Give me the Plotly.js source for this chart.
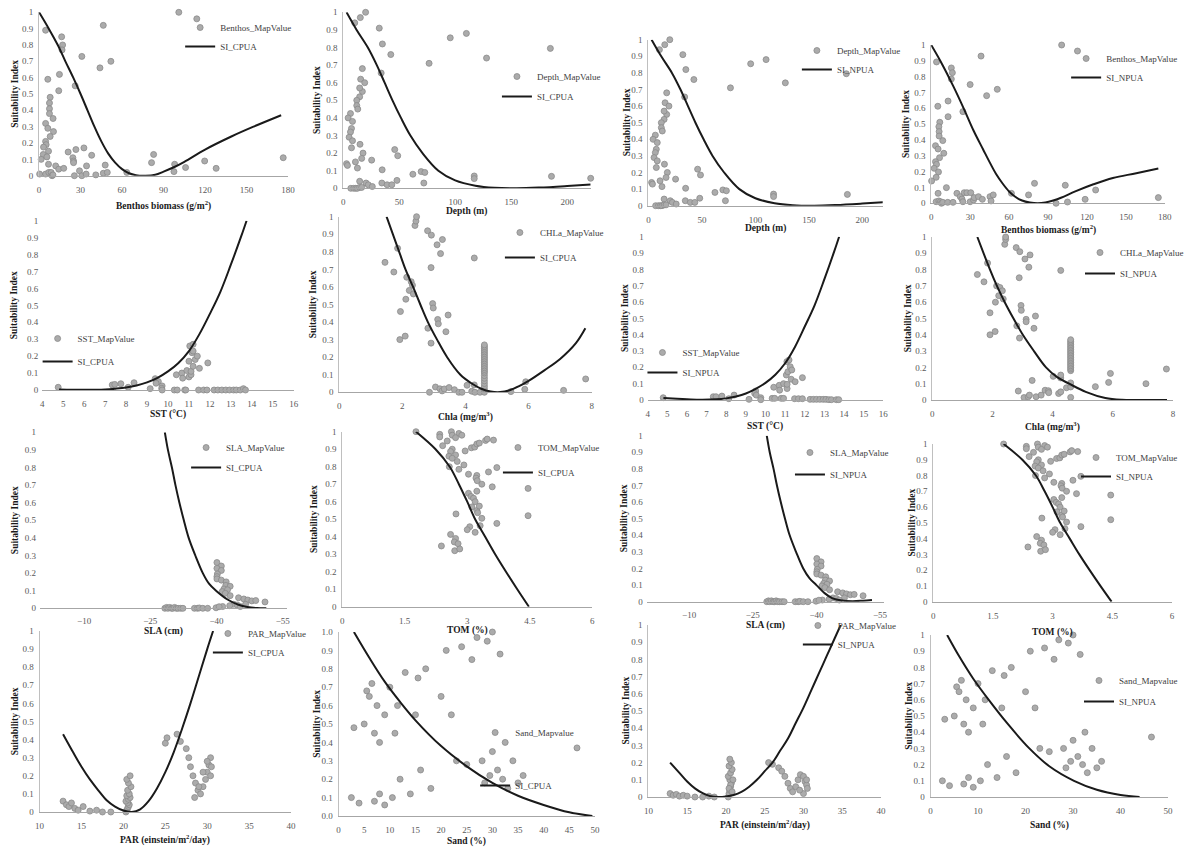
<!DOCTYPE html>
<html><head><meta charset="utf-8">
<script src="https://cdn.plot.ly/plotly-3.0.1.min.js"></script>
<style>html,body{margin:0;padding:0;background:#fff}#chart{width:1189px;height:850px}</style>
</head><body><div id="chart"></div>
<script>
// ---------------- DATA ----------------
const benthosCpuaX = [4.7,16.3,17,16.6,30.9,46.4,101,114,51.9,44,14.7,6.3,26.1,14.2,8,7.5,7.5,7.5,10.1,4.7,6.3,10.4,8,4.7,5.1,3.2,6.8,3,5.6,1.5,6.8,12,14.2,17.8,21,24.4,24.9,24.9,26.6,32.4,34.3,38,29.2,30.9,25.5,34,41,46.4,49.3,47.8,4.7,7,8.7,9.4,10,63.4,82.8,81.3,97.5,98,105.9,119.7,128,176.5,0.4];
const benthosCpuaY = [0.89,0.85,0.80,0.77,0.73,0.92,1.0,0.96,0.70,0.66,0.62,0.59,0.55,0.52,0.48,0.445,0.41,0.38,0.35,0.32,0.29,0.27,0.24,0.21,0.19,0.175,0.15,0.13,0.115,0.10,0.07,0.06,0.04,0.045,0.145,0.11,0.09,0.08,0.16,0.17,0.06,0.125,0.03,0.0,0.0,0.01,0.005,0.015,0.02,0.065,0.01,0.02,0.02,0.0,0.005,0.02,0.13,0.08,0.025,0.07,0.05,0.09,0.045,0.11,0.01];
const benthosNpuaX = [100.5,112.7,38.4,4.1,15.5,16.3,15.5,30,50.9,42.7,13,5.1,24.4,13,6.6,5.9,6.1,6.1,8.9,3.3,5.3,9.7,6.4,3.3,4.1,2.3,5.6,3.8,0.3,5.3,11.7,3.8,5.9,7.1,7.9,8.9,12.7,16.8,19.8,22.4,23.7,24.4,25.4,27.5,30.5,30,32.6,33.1,36.4,39.4,45.3,46.1,47.8,61.8,75,79.6,96.2,103.3,105,118.6,126.7,175];
const benthosNpuaY = [1.0,0.962,0.93,0.893,0.855,0.825,0.785,0.75,0.72,0.68,0.646,0.613,0.579,0.547,0.512,0.484,0.453,0.425,0.396,0.364,0.343,0.316,0.288,0.263,0.246,0.221,0.198,0.164,0.141,0.063,0.099,0.01,0.015,0.01,0,0.006,0.006,0.006,0.063,0.042,0.027,0.01,0.067,0.067,0.067,0.01,0.021,0.036,0.042,0.025,0.042,0.015,0.053,0.063,0.053,0.126,0,0.114,0.008,0.025,0.084,0.036];
const depthX = [20,15.3,10.3,32.2,35,42.5,95.6,110,76.7,128,185,33.9,17.1,15.6,19.2,17.1,14.7,14.7,12.1,12.1,13,6.5,4.4,8.3,7.4,6.5,5.3,8.3,7.4,15,17.7,16.5,10.9,12.7,3,3.8,25.4,46,48.7,34.8,62.2,69.6,72.9,72,48,34.5,39.2,43.4,14.7,20.4,22.4,26,6.8,9.4,11.2,12.7,14.7,16.5,117,117,186,221];
const depthY = [1.0,0.97,0.94,0.91,0.82,0.76,0.855,0.88,0.71,0.74,0.795,0.655,0.68,0.62,0.60,0.55,0.57,0.52,0.50,0.47,0.45,0.425,0.40,0.38,0.34,0.32,0.29,0.27,0.23,0.25,0.20,0.17,0.15,0.115,0.14,0.13,0.16,0.22,0.185,0.105,0.08,0.095,0.09,0.03,0.045,0.03,0.02,0.02,0.04,0.03,0.02,0.01,0.0,0.0,0.0,0.0,0.005,0.005,0.07,0.055,0.068,0.057];
const sstCpuaX = [4.76,7.34,7.46,7.75,8.1,8.38,9.15,9.39,9.54,9.43,9.72,9.7,9.72,10.4,10.66,10.7,10.9,11.0,11.1,11.0,11.1,11.2,11.15,11.04,11.2,11.2,11.3,11.4,11.5,11.9,10.3,10.44,10.8,10.85,11.46,11.7,11.86,12.2,12.38,12.57,12.76,12.94,13.13,13.26,13.45,13.6,13.7];
const sstCpuaY = [0.016,0.03,0.033,0.037,0.016,0.043,0.008,0.067,0.05,0.04,0.024,0.01,0.0,0.09,0.10,0.07,0.115,0.077,0.09,0.17,0.11,0.14,0.22,0.26,0.27,0.23,0.18,0.20,0.128,0.16,0,0,0,0,0,0,0,0,0,0,0,0,0,0,0,0.008,0];
const sstNpuaX = [4.79,7.34,7.48,7.78,8.13,8.4,9.16,9.5,9.45,9.53,9.76,9.76,10.42,10.7,10.72,10.92,11.1,11.1,11.06,11.14,11.09,11.2,11.26,11.34,11.31,11.51,11.88,10.34,10.47,10.8,10.92,11.48,11.68,11.88,12.27,12.44,12.6,12.77,12.94,13.08,13.23,13.36,13.61,13.73];
const sstNpuaY = [0.014,0.02,0.02,0.024,0.008,0.03,0.004,0.055,0.04,0.03,0.014,0.002,0.078,0.09,0.06,0.1,0.07,0.096,0.153,0.173,0.235,0.245,0.204,0.184,0.127,0.112,0.137,0.01,0.01,0.01,0.01,0.008,0.008,0.008,0.004,0.004,0.004,0.004,0.004,0.004,0.002,0.002,0.002,0.002];
const chlaCpuaX = [1.45,1.73,1.85,1.94,1.92,2.09,2.11,2.14,2.22,2.28,2.32,2.35,2.4,2.43,2.45,2.8,2.92,3.1,3.27,3.21,2.91,2.96,2.98,3.12,3.14,3.45,3.38,2.81,2.91,4.28,3.05,2.86,3.19,3.26,3.33,3.48,3.65,3.79,3.89,4.05,4.2,4.3,4.28,4.46,
  4.6,4.6,4.6,4.6,4.6,4.6,4.6,4.6,4.6,4.6,4.6,4.6,4.6,4.6,4.6,4.6,4.6,4.6,4.6,4.6,4.6,4.6,4.6,4.6,
  5.44,5.91,5.88,7.11,7.81];
const chlaCpuaY = [0.74,0.685,0.82,0.46,0.30,0.32,0.53,0.655,0.58,0.63,0.61,0.56,0.95,0.975,1.0,0.92,0.895,0.84,0.87,0.79,0.71,0.505,0.48,0.415,0.39,0.44,0.345,0.365,0.28,0.765,0.03,0.0,0.02,0.008,0.019,0.027,0.015,0.0,0.0,0.04,0.006,0.0,0.042,0.0,
  0,0.02,0.035,0.05,0.065,0.08,0.095,0.11,0.12,0.13,0.14,0.15,0.16,0.17,0.18,0.19,0.2,0.21,0.22,0.23,0.24,0.25,0.26,0.27,
  0.004,0.06,0.017,0.011,0.076];
const chlaNpuaX = [1.5,1.72,1.84,1.92,1.92,2.09,2.1,2.14,2.21,2.25,2.33,2.36,2.41,2.44,2.44,2.79,2.91,3.08,3.25,3.21,2.89,2.95,2.96,3.12,3.12,3.43,3.38,2.81,2.9,4.27,3.32,2.86,3.05,3.19,3.23,3.45,3.62,3.75,3.86,3.87,4.02,4.2,4.27,4.27,4.27,4.46,
  4.6,4.6,4.6,4.6,4.6,4.6,4.6,4.6,4.6,4.6,4.6,4.6,4.6,4.6,4.6,4.6,4.6,4.6,4.6,4.6,4.6,4.6,4.6,
  5.42,5.86,5.92,7.1,7.78];
const chlaNpuaY = [0.77,0.725,0.84,0.535,0.40,0.42,0.60,0.70,0.64,0.69,0.67,0.62,0.955,0.985,1.0,0.935,0.91,0.865,0.89,0.815,0.75,0.58,0.55,0.495,0.48,0.515,0.44,0.455,0.38,0.795,0.12,0.055,0.015,0.02,0.03,0.02,0.03,0.06,0.057,0.045,0.145,0.04,0.05,0.135,0.153,0.075,
  0.016,0.08,0.105,0.18,0.19,0.2,0.21,0.22,0.23,0.24,0.25,0.26,0.27,0.28,0.29,0.3,0.31,0.32,0.33,0.34,0.35,0.36,0.37,
  0.082,0.108,0.163,0.10,0.19];
const slaX = [-28.3,-28.7,-29,-29.4,-29.8,-30.1,-30.5,-30.9,-31.3,-31.9,-32.4,-35,-35.7,-36.1,-36.9,-38,-39.9,-40.1,-41.1,-40.1,-41.1,-40.2,-40.1,-40.1,-41.1,-42.2,-42.1,-43.1,-41.7,-42.5,-41.3,-42,-43.1,-45,-46.2,-47.1,-48,-48.9,-51,-43.9,-43,-41.4,-40.6,-44.7,-46.6,-45.4];
const slaY = [0,0.005,0,0.005,0,0,0.005,0,0,0,0,0,0,0.002,0,0,0.003,0.26,0.24,0.227,0.215,0.195,0.18,0.167,0.16,0.15,0.13,0.125,0.11,0.105,0.095,0.085,0.072,0.06,0.053,0.047,0.042,0.044,0.036,0.023,0.015,0.01,0.009,0.019,0.023,0.01];
const tomX = [1.77,2.34,2.34,2.62,2.8,2.87,2.64,2.72,2.52,2.41,2.64,2.6,2.72,2.56,2.64,2.76,2.57,2.8,2.92,2.95,3.1,3.18,3.23,3.29,3.44,3.48,3.63,3.51,3.71,3.03,3.23,3.21,3.24,3.35,3.23,3.6,4.46,3.03,3.09,3.15,3.19,3.11,3.23,3.29,3.25,2.73,4.46,3.35,3.31,3.71,3.06,3,3.19,2.6,2.72,2.69,2.78,2.38,2.7,2.82];
const tomY = [1.0,0.985,0.97,1.0,0.99,0.98,0.98,0.966,0.947,0.92,0.9,0.887,0.867,0.86,0.848,0.83,0.8,0.785,0.81,0.89,0.908,0.912,0.93,0.935,0.95,0.958,0.952,0.77,0.795,0.757,0.75,0.735,0.72,0.70,0.66,0.685,0.676,0.648,0.63,0.62,0.6,0.57,0.55,0.575,0.537,0.53,0.52,0.505,0.463,0.476,0.457,0.44,0.425,0.413,0.39,0.37,0.36,0.347,0.32,0.33];
const parCpuaX = [12.8,13.2,13.5,13.8,14.2,14.6,15.2,16.0,16.8,17.5,18.5,20.3,20.4,20.5,20.6,20.7,20.5,20.3,20.6,20.8,20.4,20.7,20.5,20.9,20.6,20.4,20.8,25.0,25.2,26.4,26.8,27.5,27.8,28.0,28.3,28.6,28.9,29.2,29.5,29.8,30.0,30.2,30.4,30.5,30.4,30.0,29.5,29.0,28.5];
const parCpuaY = [0.06,0.04,0.03,0.05,0.02,0.01,0.03,0.005,0.01,0.0,0.0,0.0,0.01,0.02,0.03,0.04,0.05,0.06,0.07,0.08,0.09,0.1,0.12,0.14,0.16,0.18,0.2,0.38,0.41,0.43,0.39,0.35,0.3,0.25,0.2,0.16,0.12,0.1,0.14,0.18,0.22,0.26,0.3,0.25,0.2,0.28,0.22,0.14,0.08];
const parNpuaX = [12.8,13.2,13.6,14.0,14.5,15.0,16.0,17.0,17.8,18.5,20.3,20.4,20.5,20.6,20.7,20.5,20.3,20.6,20.8,20.4,20.7,20.5,20.9,20.6,20.4,20.8,25.5,26.0,26.8,27.2,27.6,28.0,28.3,28.6,29.0,29.3,29.6,30.0,30.2,30.4,30.5,30.4,30.0,29.5];
const parNpuaY = [0.02,0.01,0.015,0.005,0.01,0.005,0.0,0.0,0.005,0.0,0.0,0.02,0.04,0.06,0.08,0.1,0.12,0.14,0.16,0.18,0.2,0.22,0.1,0.07,0.05,0.03,0.2,0.19,0.17,0.15,0.12,0.08,0.05,0.03,0.06,0.1,0.13,0.12,0.09,0.07,0.05,0.1,0.02,0.04];
const sandX = [2.5,3,4,5,5.5,6,6.5,7,7,7.5,8,8,9,9,10,10.5,11,11.5,12,13,14,15,15.5,16,17,18,20,21,22,23,24,25,26,27,28,28.5,29,29.5,30,30,31,31.5,32,32.5,33,34,35,36,46.5];
const sandY = [0.1,0.48,0.07,0.5,0.68,0.65,0.72,0.45,0.08,0.6,0.4,0.12,0.55,0.06,0.7,0.1,0.45,0.6,0.2,0.78,0.12,0.55,0.75,0.25,0.8,0.15,0.65,0.9,0.55,0.3,0.92,0.28,0.85,0.97,0.3,0.18,0.95,0.22,0.35,1.0,0.25,0.88,0.2,0.4,0.15,0.3,0.18,0.22,0.37];

// fitted suitability curves
const benthosCpuaCurveX = [0,7,13.5,19,24.7,30,35,40,45,50,55,60,65,70,77,84,90,97,105,120,139,155,175];
const benthosCpuaCurveY = [1,0.9,0.8,0.7,0.6,0.5,0.4,0.3,0.21,0.135,0.08,0.04,0.015,0.003,0,0.006,0.025,0.05,0.085,0.16,0.24,0.3,0.37];
const benthosNpuaCurveX = [0,8,17,25,32.6,40,45,50,55,60,65,70,76,82,88,94,100,111,125,140,158,175];
const benthosNpuaCurveY = [1,0.885,0.74,0.6,0.46,0.34,0.26,0.185,0.125,0.075,0.04,0.018,0.005,0,0.005,0.018,0.035,0.075,0.12,0.16,0.19,0.22];
const depthCurveX = [3,12,22,30,37,44,51.6,60,70.8,85,100,118,135,155,175,200,221];
const depthCurveY = [1,0.9,0.8,0.7,0.6,0.5,0.4,0.3,0.2,0.1,0.045,0.015,0.003,0,0.004,0.013,0.022];
const sstCpuaCurveX = [4.8,6,7,7.5,8,8.5,9,9.5,10,10.5,11,11.5,12,12.5,13,13.5,13.75];
const sstCpuaCurveY = [0.003,0.001,0.003,0.008,0.015,0.027,0.045,0.072,0.11,0.16,0.23,0.33,0.45,0.58,0.74,0.91,1.0];
const sstNpuaCurveX = [4.8,5.5,6.5,7.5,8,8.5,9,9.5,10,10.5,11,11.5,12,12.5,13,13.5,13.75];
const sstNpuaCurveY = [0.013,0.008,0.002,0.004,0.01,0.022,0.04,0.068,0.105,0.155,0.225,0.325,0.45,0.58,0.74,0.91,1.0];
const chlaCpuaCurveX = [1.5,1.9,2.1,2.34,2.57,2.81,3.1,3.42,3.84,4.2,4.5,4.8,5.1,5.4,5.7,6,6.5,7,7.5,7.8];
const chlaCpuaCurveY = [1,0.8,0.7,0.6,0.5,0.4,0.3,0.2,0.1,0.05,0.02,0.004,0.001,0.012,0.035,0.065,0.125,0.19,0.28,0.365];
const chlaNpuaCurveX = [1.5,1.92,2.15,2.41,2.7,3.01,3.38,3.78,4.15,4.55,5.1,5.75,6.3,7,7.8];
const chlaNpuaCurveY = [1,0.8,0.7,0.6,0.5,0.4,0.3,0.2,0.14,0.1,0.05,0.012,0.001,0,0];
const slaCpuaCurveX = [-28.3,-29,-29.9,-30.7,-31.6,-32.6,-33.7,-35.2,-36.9,-38.3,-39.9,-42.5,-45,-47,-49.2,-51.3];
const slaCpuaCurveY = [1,0.9,0.8,0.7,0.6,0.5,0.4,0.3,0.2,0.14,0.1,0.05,0.02,0.007,0.001,0];
const slaNpuaCurveX = [-28.3,-29,-29.9,-30.7,-31.6,-32.6,-33.7,-35.2,-36.9,-38.4,-40,-42,-43.8,-46,-48.5,-51,-53.1];
const slaNpuaCurveY = [1,0.9,0.8,0.7,0.6,0.5,0.4,0.3,0.2,0.14,0.1,0.05,0.02,0.007,0.003,0.006,0.01];
const tomCurveX = [1.77,2.24,2.58,2.8,3.0,3.19,3.43,3.67,3.93,4.2,4.48];
const tomCurveY = [1,0.9,0.8,0.7,0.6,0.5,0.4,0.3,0.2,0.1,0];
const parCpuaCurveX = [12.8,14,15,16,17,18,19,20,21,22,23,24,25,26,27,28,29,30,30.7];
const parCpuaCurveY = [0.43,0.33,0.25,0.18,0.12,0.065,0.03,0.008,0,0.015,0.06,0.13,0.22,0.33,0.46,0.6,0.75,0.9,1.0];
const parNpuaCurveX = [12.8,14,15,16,17,18,19,20,21,22,23,24,25,26,27,28,29,30,31,32,33,34,34.8];
const parNpuaCurveY = [0.2,0.14,0.09,0.05,0.022,0.005,0,0.003,0.012,0.03,0.06,0.1,0.15,0.2,0.27,0.34,0.43,0.52,0.62,0.72,0.82,0.92,1.0];
const sandCpuaCurveX = [3,6,9,12,15,20,25,30,35,40,45,49.5];
const sandCpuaCurveY = [1,0.86,0.73,0.62,0.52,0.38,0.27,0.18,0.11,0.06,0.02,0];
const sandNpuaCurveX = [3.5,6,9,12.5,16,20.8,25,30.2,35,40,44];
const sandNpuaCurveY = [1,0.87,0.73,0.59,0.46,0.3,0.19,0.1,0.045,0.013,0];

// ---------------- LAYOUT / DRAWING ----------------
const W = 1189, H = 850;
const SERIF = 'Liberation Serif, Times New Roman, serif';
const YT = 'Suitability Index';
// box: [left, right, top, bottom] in px; leg: [textX, firstItemCenterY, gap]
const panels = [
  {box:[39.5,291,12.3,175.7], xr:[0,180], dt:30, px:benthosCpuaX, py:benthosCpuaY, cx:benthosCpuaCurveX, cy:benthosCpuaCurveY, pn:'Benthos_MapValue', ln:'SI_CPUA', xt:'Benthos biomass (g/m<sup>2</sup>)', xtY:206, ytX:15, yl:true, leg:[222,27,20]},
  {box:[346.7,596.7,12.3,188.3], xr:[0,221], dt:50, px:depthX, py:depthY, cx:depthCurveX, cy:depthCurveY, pn:'Depth_MapValue', ln:'SI_CPUA', xt:'Depth (m)', xtY:212, ytX:321, yl:true, leg:[542,76,21]},
  {box:[655,891.7,39.7,205.7], xr:[0,219], dt:50, px:depthX, py:depthY, cx:depthCurveX, cy:depthCurveY, pn:'Depth_MapValue', ln:'SI_NPUA', xt:'Depth (m)', xtY:228, ytX:633, yl:true, leg:[845,50,13]},
  {box:[940.7,1176.7,45,203.3], xr:[0,180], dt:30, px:benthosNpuaX, py:benthosNpuaY, cx:benthosNpuaCurveX, cy:benthosNpuaCurveY, pn:'Benthos_MapValue', ln:'SI_NPUA', xt:'Benthos biomass (g/m<sup>2</sup>)', xtY:229, ytX:915, yl:true, leg:[1117,58,18]},
  {box:[42.7,296.7,220.7,390], xr:[4,16], dt:1, px:sstCpuaX, py:sstCpuaY, cx:sstCpuaCurveX, cy:sstCpuaCurveY, pn:'SST_MapValue', ln:'SI_CPUA', xt:'SST (°C)', xtY:414, ytX:15, yl:false, leg:[78,338,24]},
  {box:[342.7,597.7,216.7,392.3], xr:[0,8], dt:2, px:chlaCpuaX, py:chlaCpuaY, cx:chlaCpuaCurveX, cy:chlaCpuaCurveY, pn:'CHLa_MapValue', ln:'SI_CPUA', xt:'Chla (mg/m<sup>3</sup>)', xtY:416, ytX:317, yl:true, leg:[545,232,26]},
  {box:[654.3,892.3,236.7,400], xr:[4,16], dt:1, px:sstNpuaX, py:sstNpuaY, cx:sstNpuaCurveX, cy:sstNpuaCurveY, pn:'SST_MapValue', ln:'SI_NPUA', xt:'SST (°C)', xtY:426, ytX:632, yl:false, leg:[689,352,21]},
  {box:[941.7,1185,237,400], xr:[0,8], dt:2, px:chlaNpuaX, py:chlaNpuaY, cx:chlaNpuaCurveX, cy:chlaNpuaCurveY, pn:'CHLa_MapValue', ln:'SI_NPUA', xt:'Chla (mg/m<sup>3</sup>)', xtY:426, ytX:917, yl:true, leg:[1131,252,22]},
  {box:[40.4,290,432.3,608.3], xr:[0,-56], tv:[-10,-25,-40,-55], px:slaX, py:slaY, cx:slaCpuaCurveX, cy:slaCpuaCurveY, pn:'SLA_MapValue', ln:'SI_CPUA', xt:'SLA (cm)', xtY:631, ytX:15, yl:false, leg:[228,447,21], xstand:4},
  {box:[345.7,598.3,431.7,606.7], xr:[0,6], dt:1.5, px:tomX, py:tomY, cx:tomCurveX, cy:tomCurveY, pn:'TOM_MapValue', ln:'SI_CPUA', xt:'TOM (%)', xtY:630, ytX:317, yl:true, leg:[543,447,26]},
  {box:[653.3,893.3,435.7,601.7], xr:[0,-56], tv:[-10,-25,-40,-55], px:slaX, py:slaY, cx:slaNpuaCurveX, cy:slaNpuaCurveY, pn:'SLA_MapValue', ln:'SI_NPUA', xt:'SLA (cm)', xtY:625, ytX:630, yl:false, leg:[838,452,23], xstand:4},
  {box:[942.7,1184,444,601.7], xr:[0,6], dt:1.5, px:tomX, py:tomY, cx:tomCurveX, cy:tomCurveY, pn:'TOM_MapValue', ln:'SI_NPUA', xt:'TOM (%)', xtY:632, ytX:921, yl:true, leg:[1127,457,20]},
  {box:[40,294,631,812], xr:[10,40], dt:5, px:parCpuaX, py:parCpuaY, cx:parCpuaCurveX, cy:parCpuaCurveY, pn:'PAR_MapValue', ln:'SI_CPUA', xt:'PAR (einstein/m<sup>2</sup>/day)', xtY:839, ytX:15, yl:true, leg:[250,633,18]},
  {box:[342,601,632,816], xr:[0,50], dt:5, px:sandX, py:sandY, cx:sandCpuaCurveX, cy:sandCpuaCurveY, pn:'Sand_Mapvalue', ln:'SI_CPUA', xt:'Sand (%)', xtY:841, ytX:320, yl:true, leg:[520,732,54], yfmt:'.1f'},
  {box:[655,890,625,797], xr:[10,40], dt:5, px:parNpuaX, py:parNpuaY, cx:parNpuaCurveX, cy:parNpuaCurveY, pn:'PAR_MapValue', ln:'SI_NPUA', xt:'PAR (einstein/m<sup>2</sup>/day)', xtY:824, ytX:632, yl:true, leg:[846,625,16]},
  {box:[940,1180,635,797], xr:[0,50], dt:10, px:sandX, py:sandY, cx:sandNpuaCurveX, cy:sandNpuaCurveY, pn:'Sand_Mapvalue', ln:'SI_NPUA', xt:'Sand (%)', xtY:825, ytX:918, yl:true, leg:[1130,680,22]}
];

const traces = [];
const layout = {
  width: W, height: H, margin: {l:0, r:0, t:0, b:0},
  paper_bgcolor: '#ffffff', plot_bgcolor: 'rgba(0,0,0,0)',
  font: {family: SERIF, size: 9, color: '#595959'},
  annotations: [], hovermode: 'closest'
};

panels.forEach((p, i) => {
  const s = i === 0 ? '' : String(i + 1);
  const [l, r, t, b] = p.box;
  traces.push({
    type: 'scatter', mode: 'markers', x: p.px, y: p.py,
    xaxis: 'x' + s, yaxis: 'y' + s, name: p.pn, legend: 'legend' + s, legendgroup: 'm' + i,
    marker: {size: 6, color: '#ababab', line: {color: '#8a8a8a', width: 0.8}},
    cliponaxis: false
  });
  traces.push({
    type: 'scatter', mode: 'lines', x: p.cx, y: p.cy,
    xaxis: 'x' + s, yaxis: 'y' + s, name: p.ln, legend: 'legend' + s, legendgroup: 'l' + i,
    line: {color: '#1a1a1a', width: 2, shape: 'spline', smoothing: 1},
    cliponaxis: false
  });
  const xa = {
    domain: [l / W, r / W], range: p.xr, anchor: 'y' + s,
    showline: true, linecolor: '#a6a6a6', linewidth: 1, ticks: '',
    showgrid: false, zeroline: false, ticklabelstandoff: p.xstand || 5,
    tickfont: {family: SERIF, size: 9, color: '#595959'}
  };
  if (p.tv) { xa.tickmode = 'array'; xa.tickvals = p.tv; }
  else { xa.dtick = p.dt; xa.tick0 = 0; }
  layout['xaxis' + s] = xa;
  layout['yaxis' + s] = {
    domain: [1 - b / H, 1 - t / H], range: [0, 1], dtick: 0.1, tick0: 0, anchor: 'x' + s,
    showline: p.yl, linecolor: '#bfbfbf', linewidth: 1, ticks: '',
    showgrid: false, zeroline: false, ticklabelstandoff: 3,
    tickformat: p.yfmt || '', tickfont: {family: SERIF, size: 9, color: '#595959'}
  };
  layout['legend' + s] = {
    x: (p.leg[0] - 40) / W, y: 1 - (p.leg[1] - 14) / H, xanchor: 'left', yanchor: 'top',
    bgcolor: 'rgba(0,0,0,0)', borderwidth: 0,
    font: {family: SERIF, size: 9, color: '#404040'},
    traceorder: 'grouped', tracegroupgap: Math.max(0, p.leg[2] - 20), itemwidth: 30
  };
  layout.annotations.push({
    xref: 'paper', yref: 'paper', x: (l + r) / 2 / W, y: 1 - p.xtY / H,
    xanchor: 'center', yanchor: 'middle', showarrow: false,
    text: '<b>' + p.xt + '</b>', font: {family: SERIF, size: 9.5, color: '#1a1a1a'}
  });
  layout.annotations.push({
    xref: 'paper', yref: 'paper', x: p.ytX / W, y: 1 - (t + b) / 2 / H,
    xanchor: 'center', yanchor: 'middle', showarrow: false, textangle: -90,
    text: '<b>' + YT + '</b>', font: {family: SERIF, size: 9.5, color: '#1a1a1a'}
  });
});

Plotly.newPlot('chart', traces, layout, {displayModeBar: false});
</script>
</body></html>
